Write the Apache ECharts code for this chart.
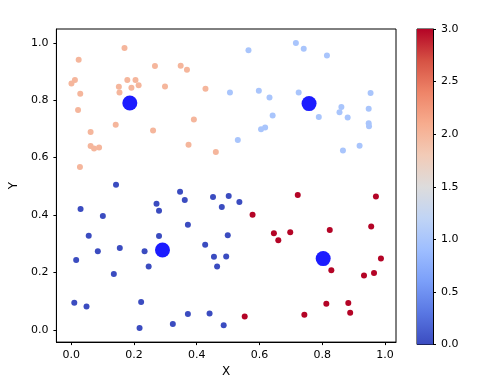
<!DOCTYPE html>
<html>
<head>
<meta charset="utf-8">
<script src="https://cdn.jsdelivr.net/npm/echarts@6/dist/echarts.min.js"></script>
<style>
html,body{margin:0;padding:0;background:#fff;}
#chart{width:485px;height:383px;}
</style>
</head>
<body>
<div id="chart"></div>
<script>
// cluster 0 (dark blue)
var x0 = [0.143,0.347,0.452,0.502,0.362,0.272,0.280,0.480,0.030,0.101,0.372,0.056,0.280,0.499,0.427,0.085,0.155,0.234,0.455,0.494,0.016,0.247,0.465,0.136,0.010,0.049,0.223,0.372,0.441,0.324,0.218,0.486,0.536];
var y0 = [0.505,0.481,0.463,0.466,0.452,0.439,0.415,0.428,0.421,0.396,0.366,0.328,0.327,0.329,0.296,0.274,0.285,0.274,0.254,0.255,0.243,0.220,0.220,0.194,0.094,0.081,0.097,0.055,0.057,0.020,0.006,0.016,0.445];
// cluster 1 (light blue)
var x1 = [0.716,0.741,0.565,0.815,0.506,0.598,0.632,0.725,0.954,0.642,0.789,0.861,0.855,0.881,0.948,0.948,0.949,0.618,0.605,0.531,0.919,0.866];
var y1 = [0.999,0.979,0.974,0.956,0.827,0.833,0.809,0.827,0.825,0.747,0.741,0.776,0.758,0.740,0.770,0.720,0.709,0.705,0.699,0.661,0.641,0.625];
// cluster 2 (orange)
var x2 = [0.170,0.024,0.267,0.349,0.369,0.012,0.001,0.179,0.205,0.215,0.152,0.192,0.299,0.428,0.154,0.029,0.022,0.391,0.142,0.261,0.062,0.374,0.062,0.073,0.089,0.461,0.028];
var y2 = [0.982,0.941,0.919,0.920,0.906,0.870,0.858,0.870,0.870,0.852,0.847,0.843,0.848,0.840,0.827,0.822,0.766,0.733,0.714,0.694,0.689,0.645,0.640,0.632,0.635,0.619,0.567];
// cluster 3 (red)
var x3 = [0.722,0.971,0.578,0.646,0.660,0.698,0.824,0.956,0.987,0.829,0.933,0.965,0.813,0.883,0.889,0.743,0.553];
var y3 = [0.470,0.464,0.401,0.336,0.312,0.340,0.348,0.360,0.248,0.207,0.189,0.198,0.091,0.093,0.059,0.052,0.046];
// cluster centers
var centerX = [0.291,0.758,0.187,0.803];
var centerY = [0.278,0.788,0.790,0.248];
// ticks
var xTicks = [0.0,0.2,0.4,0.6,0.8,1.0];
var yTicks = [0.0,0.2,0.4,0.6,0.8,1.0];
var cbTicks = [0.0,0.5,1.0,1.5,2.0,2.5,3.0];
var coolwarm = ['#3b4cc0','#5977e3','#7b9ff9','#9ebeff','#c0d4f5','#dddcdc','#f2cbb7','#f7ac8e','#ee8468','#d65244','#b40426'];

var pts = [];
[[x0,y0,0],[x1,y1,1],[x2,y2,2],[x3,y3,3]].forEach(function(c){
  for (var i=0;i<c[0].length;i++) pts.push([c[0][i], c[1][i], c[2]]);
});
var centers = centerX.map(function(v,i){return [v, centerY[i]];});

var font = 'DejaVu Sans';
var fs = 11;
function fmt(v){return Number(v).toFixed(1);}

var chart = echarts.init(document.getElementById('chart'), null, {renderer:'canvas'});
chart.setOption({
  animation:false,
  backgroundColor:'#fff',
  textStyle:{fontFamily:font},
  grid:[
    {left:56, top:29, width:340, height:315.5, show:true, borderColor:'#000', borderWidth:1, backgroundColor:'transparent'},
    {left:417, top:29, width:16, height:315.5, show:true, borderColor:'#000', borderWidth:1, backgroundColor:'transparent'}
  ],
  xAxis:[
    {type:'value', gridIndex:0, min:-0.047, max:1.035, name:'X', nameLocation:'middle', nameGap:23,
     nameTextStyle:{fontSize:fs+1, color:'#000', fontFamily:font},
     axisLine:{show:true, onZero:false, lineStyle:{color:'#000', width:1}},
     axisTick:{show:true, inside:false, length:3, customValues:xTicks, lineStyle:{color:'#000'}},
     axisLabel:{show:true, margin:8, color:'#000', fontSize:fs, fontFamily:font, customValues:xTicks, formatter:fmt},
     splitLine:{show:false}},
    {type:'category', gridIndex:1, data:['c'], show:false}
  ],
  yAxis:[
    {type:'value', gridIndex:0, min:-0.043, max:1.048, name:'Y', nameLocation:'middle', nameGap:36,
     nameTextStyle:{fontSize:fs+1, color:'#000', fontFamily:font},
     axisLine:{show:true, onZero:false, lineStyle:{color:'#000', width:1}},
     axisTick:{show:true, inside:false, length:3, customValues:yTicks, lineStyle:{color:'#000'}},
     axisLabel:{show:true, margin:8, color:'#000', fontSize:fs, fontFamily:font, customValues:yTicks, formatter:fmt},
     splitLine:{show:false}},
    {type:'value', gridIndex:1, position:'right', min:0, max:3, interval:0.5,
     axisLine:{show:true, lineStyle:{color:'#000', width:1}},
     axisTick:{show:true, inside:false, length:3, lineStyle:{color:'#000'}},
     axisLabel:{show:true, margin:8, color:'#000', fontSize:fs, fontFamily:font, formatter:fmt},
     splitLine:{show:false}}
  ],
  visualMap:{
    show:false, type:'continuous', min:0, max:3, dimension:2, seriesIndex:0,
    inRange:{color:coolwarm}
  },
  series:[
    {type:'scatter', xAxisIndex:0, yAxisIndex:0, data:pts, symbolSize:6, itemStyle:{opacity:1}, z:2},
    {type:'scatter', xAxisIndex:0, yAxisIndex:0, data:centers, symbolSize:15, itemStyle:{color:'#1c1cff', opacity:1}, z:3},
    {type:'bar', xAxisIndex:1, yAxisIndex:1, data:[3], barWidth:'100%', silent:true,
     itemStyle:{color:{type:'linear', x:0, y:1, x2:0, y2:0,
       colorStops: coolwarm.map(function(c,i){return {offset:i/(coolwarm.length-1), color:c};})}}}
  ]
});
</script>
</body>
</html>
